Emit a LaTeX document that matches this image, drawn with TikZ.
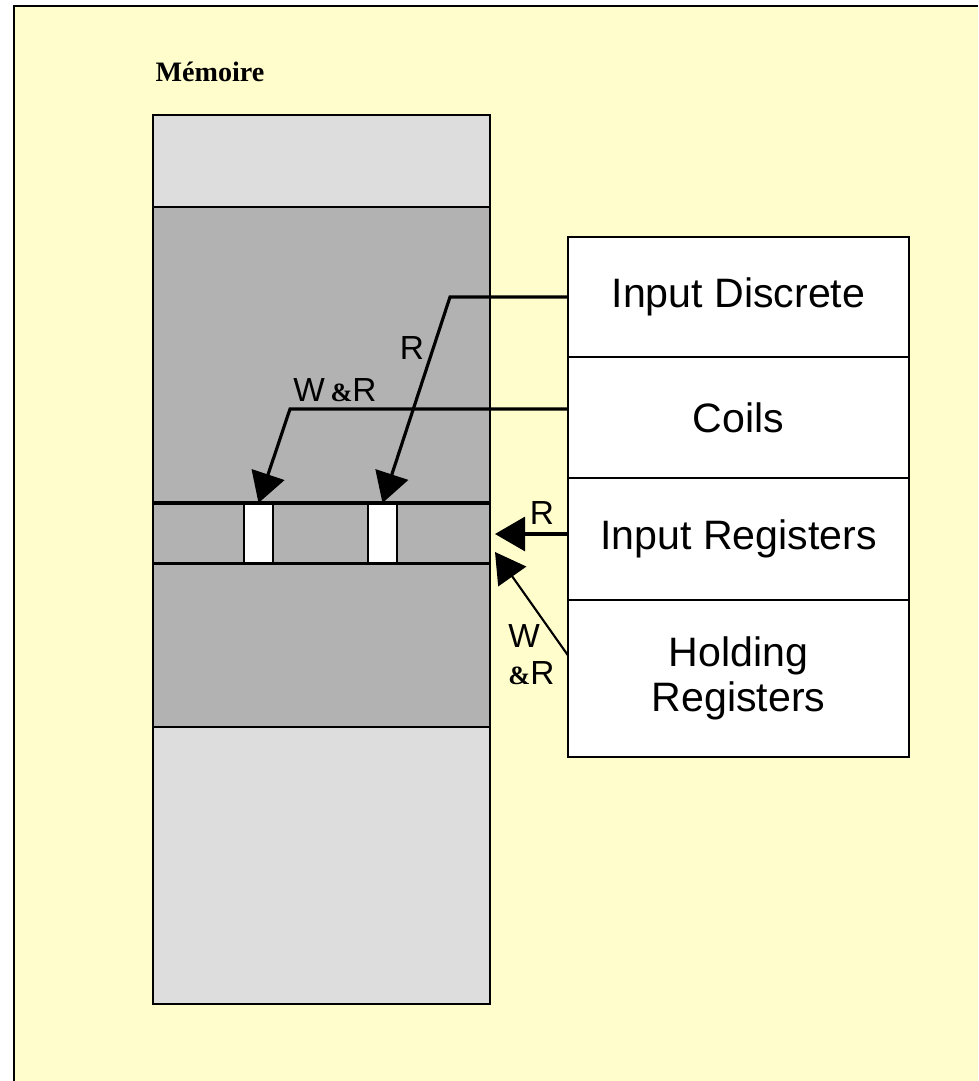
\documentclass[tikz,border=0pt]{standalone}
\usepackage{fontspec}
\setmainfont{Liberation Serif}
\setsansfont{Liberation Sans}
\usepackage{xcolor}
\usepackage{tikz}
\usetikzlibrary{arrows.meta, positioning}

\definecolor{paper}{RGB}{255,253,204}
\definecolor{lightgrey}{RGB}{221,221,221}
\definecolor{darkgrey}{RGB}{178,178,178}

\tikzset{
  reg/.style={draw, line width=1.5pt, fill=white, minimum width=6.82cm, inner sep=0pt, outer sep=0pt,
    align=center, font=\sffamily\fontsize{23.4}{26}\selectfont},
  zone/.style={draw, line width=1.5pt, minimum width=6.74cm, inner sep=0pt, outer sep=0pt},
  cell/.style={draw, line width=1pt, fill=white, minimum width=0.58cm, minimum height=1.2cm, inner sep=0pt, outer sep=0pt},
  acc/.style={line width=1.8pt, -{Triangle[length=0.6cm, width=0.68cm]}},
  lbl/.style={font=\sffamily\fontsize{19}{19}\selectfont, inner sep=0pt}
}

\begin{document}
\begin{tikzpicture}[x=0.02cm, y=-0.02cm]
    \useasboundingbox (0,0) rectangle (978,1081);
    \fill[paper] (14,6) rectangle (978,1081);
    \draw[line width=1.6pt] (14,1081) -- (14,6) -- (978,6);

    \node[font=\bfseries\fontsize{16}{18}\selectfont] (title) at (210,72) {Mémoire};

    % memoire
    \node[zone, fill=lightgrey, minimum height=17.78cm, anchor=north west] (mem) at (153,115) {};
    \node[zone, fill=darkgrey, minimum height=10.4cm, anchor=north west] (core) at (153,207) {};
    \node[minimum width=6.74cm, minimum height=1.2cm, inner sep=0pt, anchor=north west] (band) at (153,503) {};
    \node[cell, anchor=north west] (wcell) at (244,503) {};
    \node[cell, anchor=north west] (rcell) at (368,503) {};
    \draw[line width=1.9pt] (band.north west) -- (band.north east)
        (band.south west) -- (band.south east);

    % tables
    \node[reg, minimum height=2.4cm, anchor=north west] (disc) at (568,237) {Input Discrete};
    \node[reg, minimum height=2.42cm, below=0pt of disc] (coil) {Coils};
    \node[reg, minimum height=2.44cm, below=0pt of coil] (ireg) {Input Registers};
    \node[reg, minimum height=3.14cm, below=0pt of ireg] (hreg) {Holding\\Registers};

    \coordinate (bendR) at (450,297);
    \coordinate (bendW) at (290,409);
    \coordinate (irtip) at (495,534);
    \coordinate (hrtip) at (495,552);

    \draw[acc] (disc.west |- bendR) -- (bendR) -- (rcell.north);
    \draw[acc] (coil.west |- bendW) -- (bendW) -- (wcell.north);
    \draw[acc] (ireg.west |- irtip) -- (irtip);
    \draw[acc, line width=1.2pt] ([yshift=0.46cm]hreg.west) -- (hrtip);

    \node[lbl] (rdisc) at (412,348) {R};
    \node[lbl] (rwcoil) at (335,390) {W\,{\fontsize{15}{15}\selectfont\rmfamily\bfseries\&}R};
    \node[lbl] (rireg) at (542,513) {R};
    \node[lbl, align=left, anchor=west] (rwhreg) at (508,655) {W\\[2pt]{\fontsize{15}{15}\selectfont\rmfamily\bfseries\&}R};
\end{tikzpicture}
\end{document}
